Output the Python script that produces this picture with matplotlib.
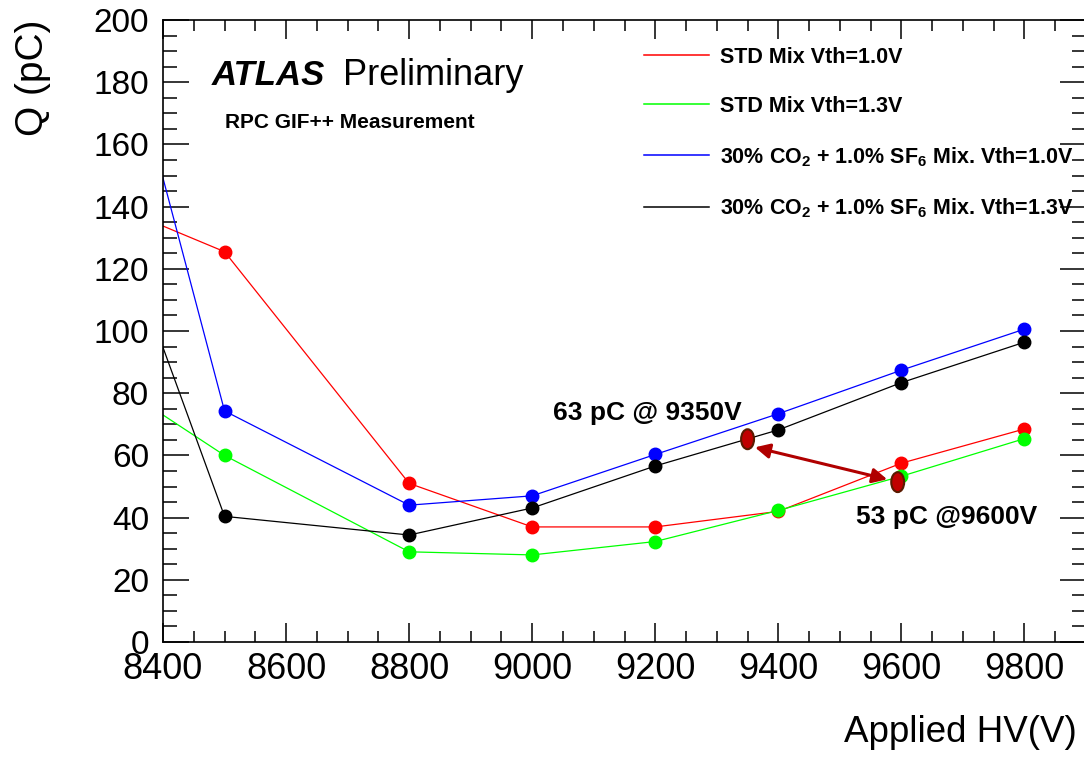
import numpy as np
import matplotlib
matplotlib.use("Agg")
import matplotlib.pyplot as plt
from matplotlib.lines import Line2D
from matplotlib.patches import Ellipse
from matplotlib.ticker import MultipleLocator

plt.rcParams['font.family'] = ['Liberation Sans', 'DejaVu Sans']
plt.rcParams['mathtext.fontset'] = 'custom'
plt.rcParams['mathtext.rm'] = 'Liberation Sans'
plt.rcParams['mathtext.bf'] = 'Liberation Sans:bold'

# data (first point at 8300 lies left of the frame, only its line segment shows)
hv = [8300, 8500, 8800, 9000, 9200, 9400, 9600, 9800]
q_std_10 = [142, 125.5, 51, 37, 37, 42, 57.5, 68.5]
q_std_13 = [86, 60, 29, 28, 32.3, 42.3, 53.3, 65.4]
q_co2_10 = [224, 74.3, 44, 47, 60.3, 73.4, 87.4, 100.6]
q_co2_13 = [149, 40.4, 34.4, 43.1, 56.6, 68.2, 83.4, 96.4]

labels = ["STD Mix Vth=1.0V",
          "STD Mix Vth=1.3V",
          r"30% CO$_\mathbf{2}$ + 1.0% SF$_\mathbf{6}$ Mix. Vth=1.0V",
          r"30% CO$_\mathbf{2}$ + 1.0% SF$_\mathbf{6}$ Mix. Vth=1.3V"]
colors = ["#ff0000", "#00ff00", "#0000ff", "#000000"]

# operating points
op_hv = [9350, 9594]
op_q = [65.2, 51.4]

fig = plt.figure(figsize=(10.84, 7.57), dpi=100)
ax = fig.add_axes([163/1084, 115/757, 923/1084, 622/757])

for q, c in zip([q_std_10, q_std_13, q_co2_10, q_co2_13], colors):
    ax.plot(hv, q, color=c, lw=0.9, marker='o', ms=9, mec=c, mfc=c)

for x, y in zip(op_hv, op_q):
    ax.add_patch(Ellipse((x, y), 21, 6.4, facecolor="#c00000", edgecolor="#5a1a00", lw=1.5, zorder=5))

ax.annotate("", xy=(9362, 62.6), xytext=(9577, 52.3),
            arrowprops=dict(arrowstyle="<|-|>", color="#b00000", lw=2.2, mutation_scale=22,
                            shrinkA=0, shrinkB=0), zorder=6)

ax.text(9033, 73.7, "63 pC @ 9350V", fontsize=19, fontweight='bold', va='center', ha='left')
ax.text(9527, 40.2, "53 pC @9600V", fontsize=19, fontweight='bold', va='center', ha='left')

ax.set_xlim(8400, 9900)
ax.set_ylim(0, 200)
ax.xaxis.set_major_locator(MultipleLocator(200))
ax.xaxis.set_minor_locator(MultipleLocator(50))
ax.yaxis.set_major_locator(MultipleLocator(20))
ax.yaxis.set_minor_locator(MultipleLocator(5))
ax.tick_params(which='both', direction='in', top=True, right=True, width=1.1)
ax.tick_params(axis='y', which='major', length=19, labelsize=24, pad=10)
ax.tick_params(axis='y', which='minor', length=10)
ax.tick_params(axis='x', which='major', length=14, labelsize=26, pad=7)
ax.tick_params(axis='x', which='minor', length=8)
for s in ax.spines.values():
    s.set_linewidth(1.2)

fig.text(1077/1084, 1 - 742/757, "Applied HV(V)", fontsize=26.5, ha='right', va='baseline')
fig.text(33/1084, 1 - 78/757, "Q (pC)", fontsize=28, rotation=90, ha='center', va='center')

fig.text(212/1084, 1 - 85/757, "ATLAS", fontsize=25, fontweight='bold', fontstyle='italic', va='baseline')
fig.text(343/1084, 1 - 85/757, "Preliminary", fontsize=26, va='baseline')
fig.text(225/1084, 1 - 127.7/757, "RPC GIF++ Measurement", fontsize=15, fontweight='bold', va='baseline')

handles = [Line2D([], [], color=c, lw=1.1) for c in colors]
fig.legend(handles, labels, loc='upper left', bbox_to_anchor=(644/1084, 1 - 47/757),
           frameon=False, borderpad=0, borderaxespad=0, handlelength=3.0, handletextpad=0.55,
           labelspacing=1.3, prop={'size': 15.5, 'weight': 'bold'})

fig.savefig("out.png", dpi=100)
